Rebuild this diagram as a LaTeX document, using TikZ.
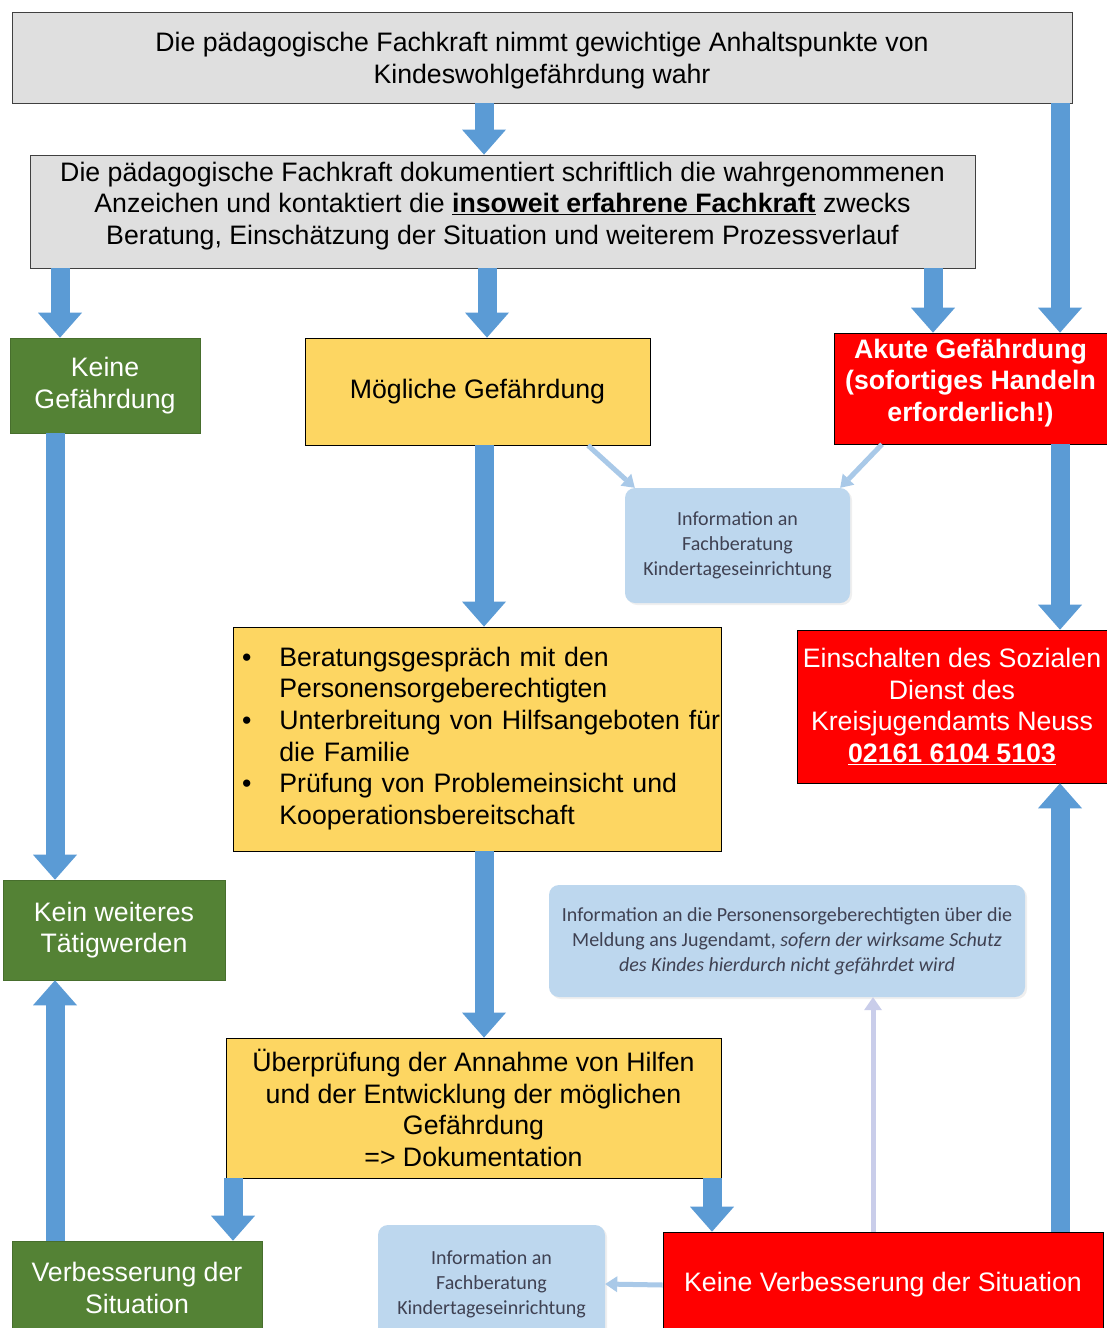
\documentclass[tikz,border=0pt]{standalone}
\usepackage{fontspec}
\setmainfont{Liberation Sans}
\newfontfamily\calibri{Carlito}
\usetikzlibrary{arrows.meta,shadows}
\definecolor{boxgrey}{HTML}{DFDFDF}
\definecolor{dgreen}{HTML}{548235}
\definecolor{yel}{HTML}{FDD662}
\definecolor{ared}{HTML}{FF0000}
\definecolor{infoblue}{HTML}{BDD7EE}
\definecolor{arrowblue}{HTML}{5B9BD5}
\definecolor{thinblue}{HTML}{A9C9E8}
\definecolor{lavender}{HTML}{C9CDEA}
\definecolor{infotext}{HTML}{3F4152}
\newcommand{\lowpad}{\rule[-17pt]{0pt}{1pt}}
\newcommand{\highpad}{\rule{0pt}{26pt}}
\begin{document}
\begin{tikzpicture}[x=1pt,y=-1pt,
  box/.style={inner sep=0pt, align=center, font=\fontsize{26.7}{31.6}\selectfont},
  greybox/.style={box, fill=boxgrey, draw=black!75, line width=0.8pt},
  greenbox/.style={box, fill=dgreen, draw=dgreen!85!black, line width=0.6pt, text=white},
  yellowbox/.style={box, fill=yel, draw=black, line width=0.8pt},
  redbox/.style={box, fill=ared, draw=black, line width=0.6pt, text=white},
  infobox/.style={inner sep=0pt, align=center, fill=infoblue, rounded corners=10pt,
    text=infotext, font=\calibri\fontsize{20}{25}\selectfont,
    drop shadow={opacity=0.12, shadow xshift=2pt, shadow yshift=-2pt}},
  blockarrow/.style={draw=arrowblue, line width=19pt,
    -{Triangle[width=44pt,length=25pt,line width=0pt]}},
  thinarrow/.style={draw=thinblue, line width=5pt,
    -{Triangle[width=16pt,length=12pt,line width=0pt]}},
  lavarrow/.style={draw=lavender, line width=5pt,
    -{Triangle[width=18pt,length=13pt,line width=0pt]}}
]
\clip (0,0) rectangle (1107,1328);
\fill[white] (0,0) rectangle (1107,1328);

% boxes
\node[greybox, minimum width=1060pt, minimum height=91pt] (top) at (542,57.5)
  {\highpad Die pädagogische Fachkraft nimmt gewichtige Anhaltspunkte von\\Kindeswohlgefährdung wahr};
\node[greybox, minimum width=945pt, minimum height=113pt] (doc) at (502.5,211.5)
  {Die pädagogische Fachkraft dokumentiert schriftlich die wahrgenommenen\\
   Anzeichen und kontaktiert die \underline{\textbf{insoweit erfahrene Fachkraft}} zwecks\\
   Beratung, Einschätzung der Situation und weiterem Prozessverlauf\lowpad};
\node[greenbox, minimum width=190pt, minimum height=95pt] (keine) at (105,385.5)
  {Keine\\Gefährdung};
\node[yellowbox, minimum width=345pt, minimum height=107pt] (moegl) at (477.5,391.5)
  {Mögliche Gefährdung};
\node[redbox, minimum width=273pt, minimum height=111pt, font=\fontsize{26.7}{31.6}\selectfont\bfseries] (akute) at (970.5,388.5)
  {Akute Gefährdung\\(sofortiges Handeln\\erforderlich!)\lowpad};
\node[infobox, minimum width=225pt, minimum height=115pt] (info1) at (737.5,545.5)
  {Information an\\Fachberatung\\Kindertageseinrichtung};
\node[yellowbox, minimum width=488pt, minimum height=224pt, text width=478pt, align=left] (massn) at (477,739)
  {\begin{tabular}{@{\hspace{4pt}}l@{\hspace{28pt}}l@{}}
   \textbullet & Beratungsgespräch mit den\\
               & Personensorgeberechtigten\\
   \textbullet & Unterbreitung von Hilfsangeboten für\\
               & die Familie\\
   \textbullet & Prüfung von Problemeinsicht und\\
               & Kooperationsbereitschaft
   \end{tabular}};
\node[redbox, minimum width=310pt, minimum height=153pt] (einsch) at (952,706.5)
  {Einschalten des Sozialen\\Dienst des\\Kreisjugendamts Neuss\\\underline{\textbf{02161 6104 5103}}};
\node[greenbox, minimum width=222pt, minimum height=100pt] (keinw) at (114,930)
  {Kein weiteres\\Tätigwerden};
\node[infobox, minimum width=476pt, minimum height=112pt] (info2) at (787,941)
  {Information an die Personensorgeberechtigten über die\\
   Meldung ans Jugendamt, \textit{sofern der wirksame Schutz}\\
   \textit{des Kindes hierdurch nicht gefährdet wird}};
\node[yellowbox, minimum width=495pt, minimum height=140pt] (pruef) at (473.5,1108)
  {Überprüfung der Annahme von Hilfen\\und der Entwicklung der möglichen\\Gefährdung\\=> Dokumentation};
\node[greenbox, minimum width=250pt, minimum height=94pt] (verb) at (137,1288)
  {Verbesserung der\\Situation};
\node[infobox, minimum width=227pt, minimum height=118pt] (info3) at (491.5,1284)
  {Information an\\Fachberatung\\Kindertageseinrichtung};
\node[redbox, minimum width=440pt, minimum height=106pt] (kv) at (883,1285)
  {Keine Verbesserung der Situation};

% column coordinates
\coordinate (cA) at (484,0);
\coordinate (cB) at (487,0);
\coordinate (cLa) at (60,0);
\coordinate (cLb) at (55,0);
\coordinate (cR) at (1060,0);
\coordinate (cR2) at (933,0);
\coordinate (cU1) at (233,0);
\coordinate (cU2) at (712,0);
\coordinate (cT1) at (588,0);
\coordinate (cT2) at (882,0);
\coordinate (cT3) at (873,0);

% block arrows
\draw[blockarrow] (cA |- top.south) -- (cA |- doc.north);
\draw[blockarrow] (cR |- top.south) -- (cR |- akute.north);
\draw[blockarrow] (cLa |- doc.south) -- (cLa |- keine.north);
\draw[blockarrow] (cB |- doc.south) -- (cB |- moegl.north);
\draw[blockarrow] (cR2 |- doc.south) -- (cR2 |- akute.north);
\draw[blockarrow] (cLb |- keine.south) -- (cLb |- keinw.north);
\draw[blockarrow] (cA |- moegl.south) -- (cA |- massn.north);
\draw[blockarrow] (cR |- akute.south) -- (cR |- einsch.north);
\draw[blockarrow] (cA |- massn.south) -- (cA |- pruef.north);
\draw[blockarrow] (cU1 |- pruef.south) -- (cU1 |- verb.north);
\draw[blockarrow] (cU2 |- pruef.south) -- (cU2 |- kv.north);
\draw[blockarrow] (cLb |- verb.north) -- (cLb |- keinw.south);
\draw[blockarrow] (cR |- kv.north) -- (cR |- einsch.south);

% thin arrows
\draw[thinarrow] (cT1 |- moegl.south) -- ([xshift=10pt]info1.north west);
\draw[thinarrow] (cT2 |- akute.south) -- ([xshift=-10pt]info1.north east);
\draw[thinarrow] (kv.west) -- (info3.east);
\draw[lavarrow] (cT3 |- kv.north) -- (cT3 |- info2.south);
\end{tikzpicture}
\end{document}
